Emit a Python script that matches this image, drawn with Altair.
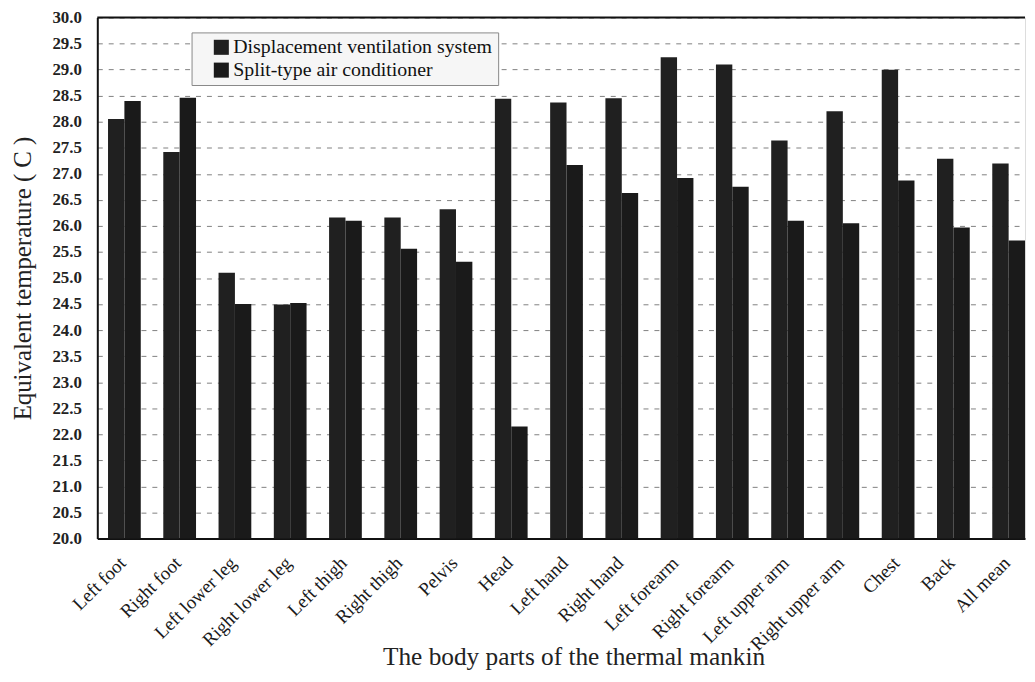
import altair as alt
import pandas as pd

parts = ["Left foot", "Right foot", "Left lower leg", "Right lower leg", "Left thigh",
         "Right thigh", "Pelvis", "Head", "Left hand", "Right hand", "Left forearm",
         "Right forearm", "Left upper arm", "Right upper arm", "Chest", "Back", "All mean"]
series = ["Displacement ventilation system", "Split-type air conditioner"]
dv = [28.05, 27.42, 25.10, 24.49, 26.16, 26.16, 26.32, 28.44, 28.37, 28.45, 29.24,
      29.10, 27.64, 28.20, 29.00, 27.29, 27.20]
sac = [28.40, 28.46, 24.50, 24.52, 26.10, 25.56, 25.31, 22.15, 27.17, 26.63, 26.92,
       26.75, 26.10, 26.05, 26.87, 25.97, 25.72]
y_ticks = [20.0 + 0.5 * i for i in range(21)]

rows = []
for p, a, b in zip(parts, dv, sac):
    rows.append({"part": p, "series": series[0], "value": a})
    rows.append({"part": p, "series": series[1], "value": b})
df = pd.DataFrame(rows)

FONT = "Liberation Serif"

y_scale = alt.Scale(domain=[20, 30], nice=False, zero=False)
y_axis = alt.Axis(title="Equivalent temperature ( C )", values=y_ticks,
                  format=".1f", labelFont=FONT, labelFontSize=17,
                  labelFontWeight="bold", labelColor="#222", labelPadding=16,
                  labelOverlap=False, labelBaseline="middle",
                  tickSize=0, domainColor="#111", domainWidth=2,
                  grid=True, gridColor="#808080", gridDash=[5, 6], gridWidth=1,
                  titleFont=FONT, titleFontSize=25, titleFontWeight="normal",
                  titleColor="#222", titlePadding=17)

base = alt.Chart(df)

bars = base.mark_bar(stroke=None).encode(
    x=alt.X("part:N", sort=parts,
            scale=alt.Scale(paddingInner=0.4075, paddingOuter=0.097, align=1),
            axis=alt.Axis(title="The body parts of the thermal mankin",
                          labelAngle=315, labelFont=FONT, labelFontSize=19,
                          labelColor="#1a1a1a", labelPadding=15, labelOffset=-8,
                          ticks=False, labelOverlap=False, labelLimit=300,
                          domainColor="#111", domainWidth=2,
                          titleFont=FONT, titleFontSize=25.5, titleFontWeight="normal",
                          titleColor="#222", titleX=480, titleY=127,
                          titleBaseline="alphabetic", titleAnchor="middle")),
    xOffset=alt.XOffset("series:N", sort=series, scale=alt.Scale(paddingInner=0)),
    y=alt.Y("value:Q", scale=y_scale, axis=y_axis),
    y2=alt.datum(20),
    color=alt.Color("series:N", sort=series,
                    scale=alt.Scale(domain=series, range=["#202020", "#1a1a1a"]),
                    legend=alt.Legend(title=None, orient="none", legendX=95, legendY=15,
                                      labelFont=FONT, labelFontSize=20, labelColor="#111",
                                      symbolType="square", symbolSize=230,
                                      symbolStrokeWidth=0, symbolOffset=15,
                                      labelOffset=2, rowPadding=3, padding=5,
                                      fillColor="#f6f6f6", strokeColor="#888888",
                                      labelLimit=400)),
)

top = base.transform_aggregate(
    t="max(value)"
).transform_calculate(
    t="30"
).mark_rule(color="#111", strokeWidth=2).encode(
    y=alt.Y("t:Q", scale=y_scale, axis=y_axis)
)

chart = alt.layer(bars, top).properties(
    width=935, height=525,
    autosize=alt.AutoSizeParams(type="none"),
    padding={"left": 90, "top": 7, "right": 2, "bottom": 134},
).configure_view(stroke=None).configure(background="white", font=FONT)

chart.save("out.html", embed_options={"renderer": "svg", "actions": False})
